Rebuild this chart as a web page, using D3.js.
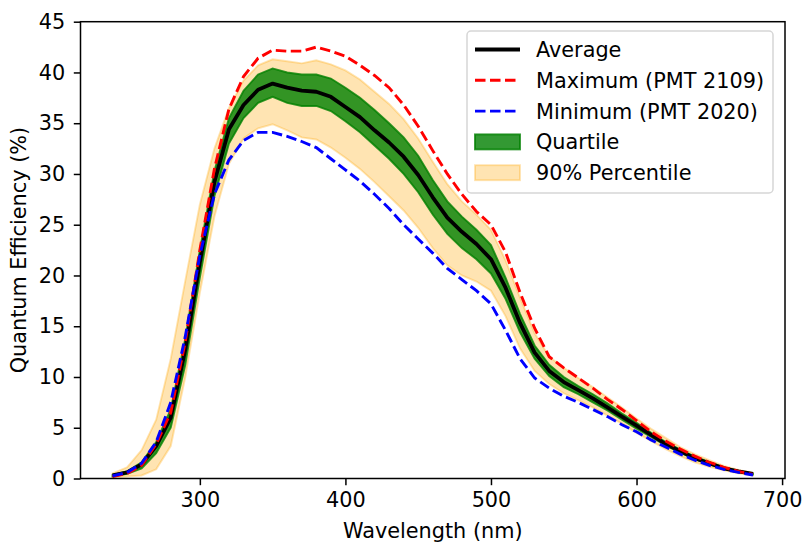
<!DOCTYPE html>
<html lang="en">
<head>
<meta charset="utf-8">
<title>PMT Quantum Efficiency</title>
<script type="text/javascript" src="https://d3js.org/d3.v7.min.js"></script>
<style type="text/css">
    body { margin: 0; background: #fff; }
    svg text { font-family: "DejaVu Sans", sans-serif; fill: #000; }
</style>
</head>
<body>
<script type="text/javascript">
// wavelength grid (nm)
var wavelength = [240, 250, 260, 270, 280, 290, 300, 310, 320, 330, 340, 350, 360, 370, 380,
                  390, 400, 410, 420, 430, 440, 450, 460, 470, 480, 490, 500, 510, 520, 530,
                  540, 550, 560, 570, 580, 590, 600, 610, 620, 630, 640, 650, 660, 670, 680];

// quantum efficiency (%)
var average = [0.3, 0.6, 1.4, 3.2, 6.0, 12.7, 21.3, 29.2, 34.4, 36.8, 38.3, 38.9, 38.5, 38.2, 38.1,
               37.6, 36.6, 35.6, 34.3, 33.1, 31.7, 29.9, 27.7, 25.7, 24.3, 23.1, 21.6, 18.8, 15.3, 12.4,
               10.6, 9.5, 8.7, 7.9, 7.0, 6.1, 5.2, 4.3, 3.4, 2.7, 2.0, 1.5, 1.0, 0.7, 0.45];
var maximum = [0.2, 0.5, 1.3, 3.4, 6.5, 13.5, 22.5, 30.5, 36.4, 39.6, 41.4, 42.2, 42.1, 42.1, 42.5,
               42.1, 41.6, 40.7, 39.7, 38.5, 36.8, 34.7, 32.3, 30.0, 28.0, 26.3, 25.0, 22.3, 18.3, 14.8,
               12.0, 10.9, 9.9, 8.9, 7.8, 6.8, 5.7, 4.6, 3.7, 2.9, 2.2, 1.6, 1.1, 0.7, 0.4];
var minimum = [0.25, 0.6, 1.5, 3.6, 7.5, 14.0, 22.0, 28.0, 31.4, 33.3, 34.1, 34.1, 33.7, 33.2, 32.6,
               31.5, 30.4, 29.3, 28.0, 26.6, 25.0, 23.6, 22.2, 20.7, 19.6, 18.5, 17.2, 14.6, 11.8, 9.9,
               8.9, 8.1, 7.5, 6.8, 6.1, 5.3, 4.6, 3.8, 3.1, 2.4, 1.8, 1.3, 0.9, 0.6, 0.35];
var q75 = [0.35, 0.7, 1.6, 3.6, 6.8, 13.8, 22.5, 30.3, 35.5, 38.2, 39.8, 40.4, 40.0, 39.8, 39.8,
           39.4, 38.5, 37.5, 36.3, 35.0, 33.6, 31.8, 29.4, 27.3, 25.8, 24.5, 23.0, 19.8, 16.2, 13.1,
           11.2, 10.0, 9.1, 8.3, 7.4, 6.4, 5.5, 4.5, 3.6, 2.85, 2.15, 1.6, 1.1, 0.75, 0.5];
var q25 = [0.2, 0.45, 1.0, 2.5, 5.0, 11.2, 19.8, 27.8, 33.0, 35.5, 37.0, 37.6, 37.0, 36.7, 36.7,
           36.2, 35.2, 34.1, 32.8, 31.5, 30.0, 28.2, 26.0, 24.1, 22.7, 21.6, 20.2, 17.7, 14.4, 11.8,
           10.1, 9.0, 8.3, 7.5, 6.7, 5.8, 4.9, 4.1, 3.25, 2.55, 1.9, 1.4, 0.95, 0.65, 0.4];
var p95 = [0.5, 1.1, 2.8, 5.8, 11.8, 19.5, 27.0, 32.5, 36.5, 39.2, 40.7, 41.3, 41.1, 40.9, 41.2,
           40.8, 40.2, 39.3, 38.1, 36.9, 35.4, 33.5, 31.2, 29.0, 27.3, 26.0, 24.5, 21.5, 17.8, 14.3,
           12.0, 10.9, 9.9, 9.0, 8.0, 7.0, 5.9, 4.9, 4.0, 3.1, 2.4, 1.8, 1.25, 0.85, 0.55];
var p5 = [0.1, 0.2, 0.3, 0.9, 3.2, 10.0, 18.3, 25.8, 31.0, 33.5, 34.5, 34.9, 34.3, 33.6, 33.4,
          32.6, 31.6, 30.5, 29.2, 27.8, 26.4, 24.7, 22.7, 21.0, 20.0, 19.4, 18.5, 16.0, 12.8, 10.6,
          9.3, 8.4, 7.7, 7.0, 6.2, 5.4, 4.5, 3.7, 2.9, 2.2, 1.6, 1.15, 0.8, 0.5, 0.3];

var xTicks = [300, 400, 500, 600, 700];
var yTicks = [0, 5, 10, 15, 20, 25, 30, 35, 40, 45];

var fontSize = "20.8px";

var margin = {top: 21.7, right: 17, bottom: 64.5, left: 80.5},
    width = 802 - margin.left - margin.right,
    height = 543 - margin.top - margin.bottom;

var svg = d3.select("body").append("svg")
    .attr("width", 802)
    .attr("height", 543)
    .append("g")
    .attr("transform", "translate(" + margin.left + "," + margin.top + ")");

var x = d3.scaleLinear().domain([218, 702]).range([0, width]);
var y = d3.scaleLinear().domain([0, 45]).range([height, 0]);

var idx = d3.range(wavelength.length);

function band(lo, hi) {
    return d3.area()
        .x(function(i) { return x(wavelength[i]); })
        .y0(function(i) { return y(lo[i]); })
        .y1(function(i) { return y(hi[i]); });
}
function line(vals) {
    return d3.line()
        .x(function(i) { return x(wavelength[i]); })
        .y(function(i) { return y(vals[i]); });
}

var plot = svg.append("g");

// 90% band
plot.append("path")
    .datum(idx)
    .attr("d", band(p5, p95))
    .attr("fill", "orange").attr("fill-opacity", 0.3)
    .attr("stroke", "orange").attr("stroke-opacity", 0.3).attr("stroke-width", 1.9);

// quartile band
plot.append("path")
    .datum(idx)
    .attr("d", band(q25, q75))
    .attr("fill", "green").attr("fill-opacity", 0.8)
    .attr("stroke", "green").attr("stroke-opacity", 0.8).attr("stroke-width", 1.9);

plot.append("path")
    .datum(idx)
    .attr("d", line(average))
    .attr("fill", "none").attr("stroke", "black").attr("stroke-width", 3.8)
    .attr("stroke-linejoin", "round");

plot.append("path")
    .datum(idx)
    .attr("d", line(maximum))
    .attr("fill", "none").attr("stroke", "red").attr("stroke-width", 2.9)
    .attr("stroke-dasharray", "10.5,4.5");

plot.append("path")
    .datum(idx)
    .attr("d", line(minimum))
    .attr("fill", "none").attr("stroke", "blue").attr("stroke-width", 2.9)
    .attr("stroke-dasharray", "10.5,4.5");

// axes
var xAxis = svg.append("g")
    .attr("transform", "translate(0," + height + ")")
    .call(d3.axisBottom(x).tickValues(xTicks).tickSize(6.7).tickPadding(7.5));
var yAxis = svg.append("g")
    .call(d3.axisLeft(y).tickValues(yTicks).tickSize(6.7).tickPadding(8.5));

[xAxis, yAxis].forEach(function(a) {
    a.select(".domain").remove();
    a.selectAll(".tick line").attr("stroke", "#000").attr("stroke-width", 1.5);
    a.selectAll(".tick text").attr("font-size", fontSize).attr("font-family", "DejaVu Sans");
});

// frame
svg.append("rect")
    .attr("width", width).attr("height", height)
    .attr("fill", "none").attr("stroke", "#000").attr("stroke-width", 1.5);

svg.append("text")
    .attr("x", width / 2)
    .attr("y", height + 60)
    .attr("text-anchor", "middle")
    .attr("font-size", fontSize)
    .text("Wavelength (nm)");

svg.append("text")
    .attr("transform", "rotate(-90)")
    .attr("x", -height / 2)
    .attr("y", -54.5)
    .attr("text-anchor", "middle")
    .attr("font-size", fontSize)
    .text("Quantum Efficiency (%)");

// legend
var legendItems = ["Average", "Maximum (PMT 2109)", "Minimum (PMT 2020)", "Quartile", "90% Percentile"];
var lg = svg.append("g").attr("transform", "translate(" + (467 - margin.left) + "," + (31 - margin.top) + ")");
lg.append("rect")
    .attr("width", 306).attr("height", 162).attr("rx", 4)
    .attr("fill", "#fff").attr("fill-opacity", 0.8)
    .attr("stroke", "#d6d6d6").attr("stroke-width", 1.5);

var rowY = function(i) { return 18.5 + i * 30.8; };
lg.append("line").attr("x1", 8).attr("x2", 53).attr("y1", rowY(0)).attr("y2", rowY(0))
    .attr("stroke", "black").attr("stroke-width", 3.8);
lg.append("line").attr("x1", 8).attr("x2", 53).attr("y1", rowY(1)).attr("y2", rowY(1))
    .attr("stroke", "red").attr("stroke-width", 2.9).attr("stroke-dasharray", "10.5,4.5");
lg.append("line").attr("x1", 8).attr("x2", 53).attr("y1", rowY(2)).attr("y2", rowY(2))
    .attr("stroke", "blue").attr("stroke-width", 2.9).attr("stroke-dasharray", "10.5,4.5");
lg.append("rect").attr("x", 8).attr("y", rowY(3) - 7.5).attr("width", 45).attr("height", 15)
    .attr("fill", "green").attr("fill-opacity", 0.8)
    .attr("stroke", "green").attr("stroke-opacity", 0.8).attr("stroke-width", 1.9);
lg.append("rect").attr("x", 8).attr("y", rowY(4) - 7.5).attr("width", 45).attr("height", 15)
    .attr("fill", "orange").attr("fill-opacity", 0.3)
    .attr("stroke", "orange").attr("stroke-opacity", 0.3).attr("stroke-width", 1.9);

lg.selectAll("text.item")
    .data(legendItems)
    .enter().append("text")
    .attr("class", "item")
    .attr("x", 69)
    .attr("y", function(d, i) { return rowY(i); })
    .attr("dy", "0.36em")
    .attr("font-size", fontSize)
    .text(function(d) { return d; });
</script>
</body>
</html>
